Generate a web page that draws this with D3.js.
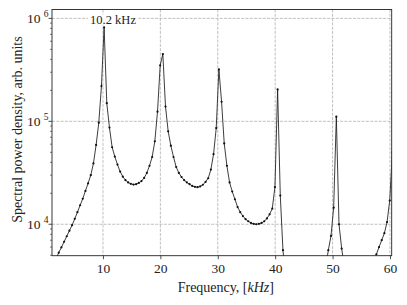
<!DOCTYPE html>
<html lang="en">
<head>
<meta charset="UTF-8">
<script src="https://d3js.org/d3.v7.min.js"></script>
<title>Spectrum</title>
<style>
  body { margin: 0; background: #fff; }
  text { font-family: "Liberation Serif", "DejaVu Serif", serif; fill: #222; }
</style>
</head>
<body>
<div id="chart"></div>
<script>
// frequency samples, kHz
var freq = [0.9, 1.365, 1.83, 2.295, 2.76, 3.225, 3.69, 4.155, 4.62, 5.085,
  5.55, 6.015, 6.48, 6.945, 7.41, 7.875, 8.34, 8.805, 9.27, 9.735,
  10.2, 10.665, 11.13, 11.595, 12.06, 12.525, 12.99, 13.455, 13.92, 14.385,
  14.85, 15.315, 15.78, 16.245, 16.71, 17.175, 17.64, 18.105, 18.57, 19.035,
  19.5, 19.965, 20.43, 20.895, 21.36, 21.825, 22.29, 22.755, 23.22, 23.685,
  24.15, 24.615, 25.08, 25.545, 26.01, 26.475, 26.94, 27.405, 27.87, 28.335,
  28.8, 29.265, 29.73, 30.195, 30.66, 31.125, 31.59, 32.055, 32.52, 32.985,
  33.45, 33.915, 34.38, 34.845, 35.31, 35.775, 36.24, 36.705, 37.17, 37.635,
  38.1, 38.565, 39.03, 39.495, 39.96, 40.425, 40.89, 41.355, 41.82, 42.285,
  42.75, 43.215, 43.68, 44.145, 44.61, 45.075, 45.54, 46.005, 46.47, 46.935,
  47.4, 47.865, 48.33, 48.795, 49.26, 49.725, 50.19, 50.655, 51.12, 51.585,
  52.05, 52.515, 52.98, 53.445, 53.91, 54.375, 54.84, 55.305, 55.77, 56.235,
  56.7, 57.165, 57.63, 58.095, 58.56, 59.025, 59.49, 59.955, 60.42];

// spectral power density, arb. units
var psd = [3600, 4100, 4650, 5300, 5970, 6760, 7650, 8670, 9800, 11300,
  13100, 15300, 17700, 21100, 25000, 30000, 39000, 59000, 97000, 220000,
  820000, 150000, 87000, 56000, 45500, 38000, 32500, 29000, 26800, 25500,
  24700, 24300, 24500, 25200, 26300, 28200, 31500, 37000, 45000, 64000,
  124000, 350000, 450000, 139000, 80000, 58000, 45000, 36000, 31500, 28800,
  26800, 25500, 24500, 23600, 23100, 22900, 23300, 24200, 25800, 28000,
  34000, 48000, 86000, 320000, 155000, 61000, 37000, 25500, 20800, 17500,
  14700, 13100, 12000, 11200, 10700, 10300, 10100, 10000, 10100, 10300,
  10700, 11400, 12500, 14200, 23000, 204000, 19000, 5600, 3000, 2200,
  1800, 1500, 1350, 1250, 1200, 1180, 1200, 1250, 1350, 1500,
  1750, 2100, 2700, 3800, 5600, 7700, 14500, 111000, 10000, 5800,
  3900, 3000, 2500, 2200, 2000, 1900, 1900, 2000, 2300, 2800,
  3500, 4300, 5100, 6000, 7000, 8200, 10500, 17000, 50000];

var xTicks = [10, 20, 30, 40, 50, 60];
var yTicks = [1e4, 1e5, 1e6];
var peakLabel = "10.2 kHz";

var W = 407, H = 305;
var margin = {top: 9.5, right: 15.3, bottom: 49.3, left: 52};
var iw = W - margin.left - margin.right;
var ih = H - margin.top - margin.bottom;

var svg = d3.select("#chart").append("svg")
    .attr("width", W).attr("height", H);

var g = svg.append("g")
    .attr("transform", "translate(" + margin.left + "," + margin.top + ")");

var x = d3.scaleLinear().domain([1.12, 60.3]).range([0, iw]);
var y = d3.scaleLog().domain([4950, 1.22e6]).range([ih, 0]);

g.append("clipPath").attr("id", "clip")
  .append("rect").attr("width", iw).attr("height", ih);

// grid
var grid = g.append("g").attr("stroke", "#b0b0b0")
    .attr("stroke-width", 0.8).attr("stroke-dasharray", "3,1.3");
grid.selectAll(".gx").data(xTicks).enter().append("line")
    .attr("x1", function (d) { return x(d); }).attr("x2", function (d) { return x(d); })
    .attr("y1", 0).attr("y2", ih);
grid.selectAll(".gy").data(yTicks).enter().append("line")
    .attr("y1", function (d) { return y(d); }).attr("y2", function (d) { return y(d); })
    .attr("x1", 0).attr("x2", iw);

// curve + markers
var pts = freq.map(function (f, i) { return [f, psd[i]]; });
var plot = g.append("g").attr("clip-path", "url(#clip)");
plot.append("path")
    .datum(pts)
    .attr("fill", "none")
    .attr("stroke", "#1a1a1a")
    .attr("stroke-width", 0.85)
    .attr("d", d3.line().x(function (d) { return x(d[0]); }).y(function (d) { return y(d[1]); }));
plot.selectAll("circle").data(pts).enter().append("circle")
    .attr("cx", function (d) { return x(d[0]); })
    .attr("cy", function (d) { return y(d[1]); })
    .attr("r", 1.1)
    .attr("fill", "#111");

// x axis
var xAxis = d3.axisBottom(x).tickValues(xTicks).tickSize(3.5).tickPadding(4);
var gx = g.append("g").attr("transform", "translate(0," + ih + ")").call(xAxis);
gx.select(".domain").remove();
gx.selectAll("line").attr("stroke", "#222").attr("stroke-width", 0.8);
gx.selectAll("text").style("font-size", "13.5px")
    .style("font-family", "'Liberation Serif', serif").attr("fill", "#222");

// y axis: major ticks with 10^n labels, minor ticks without
var minor = [];
[1e3, 1e4, 1e5].forEach(function (dec) {
  for (var m = 2; m <= 9; m++) {
    var v = dec * m;
    if (v >= y.domain()[0] && v <= y.domain()[1]) minor.push(v);
  }
});
var gy = g.append("g");
gy.selectAll(".minor").data(minor).enter().append("line")
    .attr("x1", -2).attr("x2", 0)
    .attr("y1", function (d) { return y(d); }).attr("y2", function (d) { return y(d); })
    .attr("stroke", "#222").attr("stroke-width", 0.6);
gy.selectAll(".major").data(yTicks).enter().append("line")
    .attr("x1", -3.5).attr("x2", 0)
    .attr("y1", function (d) { return y(d); }).attr("y2", function (d) { return y(d); })
    .attr("stroke", "#222").attr("stroke-width", 0.8);
var lab = gy.selectAll(".lab").data(yTicks).enter().append("text")
    .attr("x", -11.5).attr("y", function (d) { return y(d) + 5; })
    .attr("text-anchor", "end")
    .style("font-size", "13.5px");
lab.append("tspan").text("10");
lab.append("tspan").attr("dy", -6).style("font-size", "9.5px")
    .attr("x", -3.5).attr("text-anchor", "end")
    .text(function (d) { return Math.round(Math.log10(d)); });

// frame
g.append("rect").attr("width", iw).attr("height", ih)
    .attr("fill", "none").attr("stroke", "#222").attr("stroke-width", 0.9);

// peak annotation
var ann = g.append("g").attr("transform", "translate(" + (x(10.2) - 14) + ",14)");
var annText = ann.append("text").attr("x", 0).attr("y", 0)
    .style("font-size", "12.5px").text(peakLabel);
var bb = annText.node().getBBox();
ann.insert("rect", "text")
    .attr("x", bb.x - 2).attr("y", bb.y + 2).attr("width", bb.width + 4).attr("height", bb.height - 4)
    .attr("fill", "#fff");

// axis labels
var xl = svg.append("text")
    .attr("x", margin.left + iw / 2 + 4).attr("y", 292)
    .attr("text-anchor", "middle")
    .style("font-size", "14px");
xl.append("tspan").text("Frequency, [");
xl.append("tspan").style("font-style", "italic").text("kHz");
xl.append("tspan").text("]");

svg.append("text")
    .attr("transform", "translate(22," + (margin.top + ih / 2 - 3) + ") rotate(-90)")
    .attr("text-anchor", "middle")
    .style("font-size", "14px")
    .text("Spectral power density, arb. units");
</script>
</body>
</html>
